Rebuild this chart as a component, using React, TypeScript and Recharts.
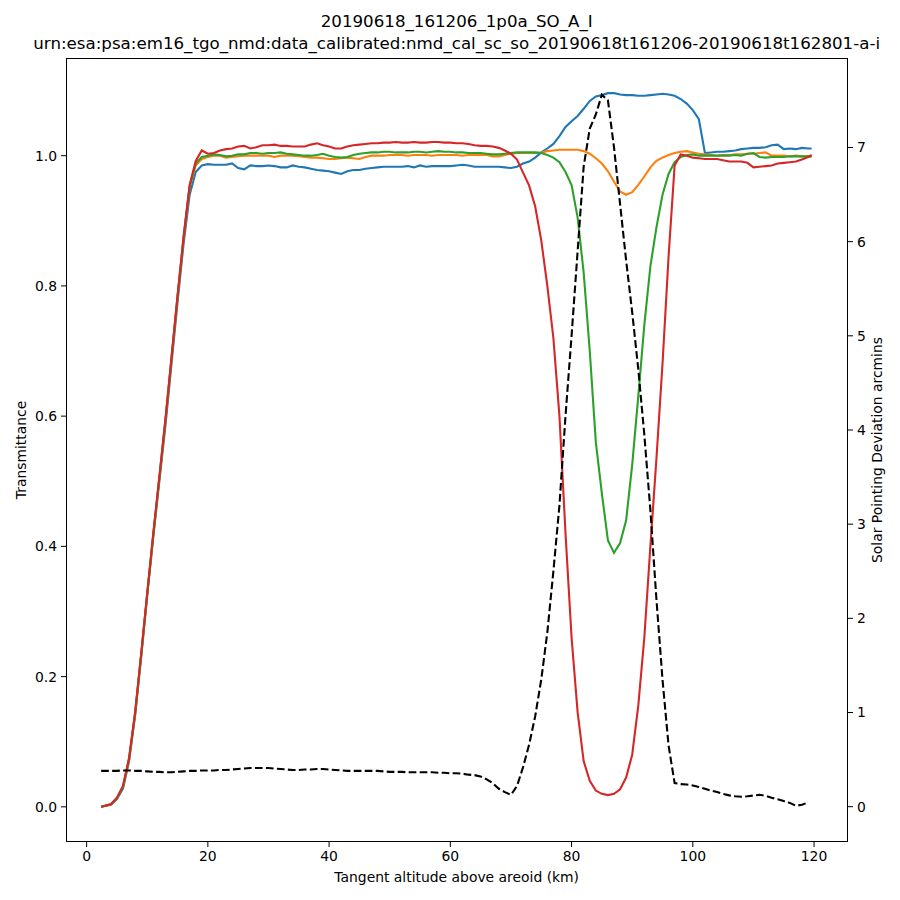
import React from 'react';
import { LineChart, Line, XAxis, YAxis } from 'recharts';

// tangent altitude (km)
const ALT = [
  2.4, 4, 5, 6, 7, 8, 9,
  10, 11, 12, 13, 14, 15, 16, 17, 18, 19,
  20, 21, 22, 23, 24, 25, 26, 27, 28, 29,
  30, 31, 32, 33, 34, 35, 36, 37, 38, 39,
  40, 41, 42, 43, 44, 45, 46, 47, 48, 49,
  50, 51, 52, 53, 54, 55, 56, 57, 58, 59,
  60, 61, 62, 63, 64, 65, 66, 67, 68, 69,
  70, 71, 72, 73, 74, 75, 76, 77, 78, 79,
  80, 81, 82, 83, 84, 85, 86, 87, 88, 89,
  90, 91, 92, 93, 94, 95, 96, 97, 98, 99,
  100, 101, 102, 103, 104, 105, 106, 107, 108, 109,
  110, 111, 112, 113, 114, 115, 116, 117, 118, 119,
  119.6,
];

const BLUE = [
  0, 0.003, 0.012, 0.028, 0.07, 0.14, 0.23,
  0.325, 0.415, 0.5, 0.585, 0.68, 0.775, 0.865, 0.94, 0.975, 0.985,
  0.987, 0.986, 0.986, 0.986, 0.988, 0.981, 0.979, 0.985, 0.984, 0.984,
  0.985, 0.984, 0.982, 0.982, 0.985, 0.983, 0.982, 0.98, 0.978, 0.977,
  0.976, 0.974, 0.972, 0.976, 0.978, 0.978, 0.98, 0.981, 0.982, 0.983,
  0.983, 0.983, 0.983, 0.984, 0.982, 0.985, 0.983, 0.984, 0.984, 0.984,
  0.984, 0.985, 0.986, 0.985, 0.983, 0.983, 0.983, 0.983, 0.983, 0.982,
  0.981, 0.983, 0.988, 0.991, 0.997, 1.005, 1.011, 1.018, 1.03, 1.044,
  1.053, 1.061, 1.072, 1.084, 1.091, 1.093, 1.096, 1.096, 1.094, 1.093,
  1.093, 1.092, 1.092, 1.093, 1.094, 1.095, 1.094, 1.092, 1.087, 1.08,
  1.07, 1.056, 1.004, 1.005, 1.006, 1.006, 1.007, 1.008, 1.01, 1.011,
  1.012, 1.012, 1.013, 1.016, 1.017, 1.01, 1.011, 1.01, 1.012, 1.011,
  1.011,
];

const ORANGE = [
  0, 0.004, 0.013, 0.031, 0.073, 0.143, 0.233,
  0.327, 0.418, 0.505, 0.593, 0.688, 0.783, 0.874, 0.952, 0.985, 0.995,
  0.998, 1.0, 1.0, 0.997, 0.998, 0.999, 1.0, 1.0, 1.0, 1.0,
  1.0, 0.998, 1.0, 1.0, 1.0, 0.999, 0.998, 0.997, 0.997, 0.996,
  0.995, 0.995, 0.996, 0.997, 0.996, 0.995, 0.998, 1.0, 1.0, 1.0,
  1.001, 1.001, 1.001, 1.0, 1.001, 1.001, 1.001, 1.0, 1.001, 1.001,
  1.001, 1.001, 1.0, 1.001, 1.001, 1.001, 1.001, 0.999, 0.999, 1.001,
  1.003, 1.004, 1.004, 1.004, 1.004, 1.005, 1.007, 1.008, 1.009, 1.009,
  1.009, 1.009, 1.007, 1.003, 0.996, 0.988, 0.976, 0.96, 0.945, 0.94,
  0.944, 0.955, 0.968, 0.982, 0.992, 0.997, 1.001, 1.004, 1.006, 1.007,
  1.005, 1.003, 1.002, 1.001, 1.0, 1.001, 1.001, 1.002, 1.002, 1.003,
  1.003, 1.004, 1.005, 1.0, 1.0, 1.0, 0.999, 1.0, 0.999, 0.999,
  0.999,
];

const GREEN = [
  0, 0.004, 0.013, 0.031, 0.073, 0.143, 0.233,
  0.327, 0.418, 0.505, 0.593, 0.688, 0.783, 0.874, 0.953, 0.988, 0.998,
  1.0, 1.002, 1.001, 0.999, 1.0, 1.002, 1.002, 1.004, 1.004, 1.003,
  1.004, 1.004, 1.005, 1.003, 1.002, 1.001, 1.0, 1.0, 1.001, 1.003,
  1.0, 0.998, 0.997, 0.998, 1.001, 1.003, 1.004, 1.005, 1.005, 1.006,
  1.006, 1.005, 1.005, 1.005, 1.006, 1.006, 1.005, 1.006, 1.007, 1.006,
  1.006, 1.005, 1.005, 1.004, 1.004, 1.004, 1.003, 1.002, 1.002, 1.003,
  1.004, 1.005, 1.005, 1.005, 1.005, 1.004, 1.001, 0.997, 0.99, 0.975,
  0.955, 0.905, 0.82, 0.7, 0.56, 0.481, 0.409, 0.39, 0.405, 0.44,
  0.525, 0.63, 0.74, 0.83, 0.89, 0.94, 0.972, 0.99, 0.998, 1.001,
  1.002, 1.0, 1.0, 1.0, 1.0, 1.0, 1.0, 1.001, 1.0, 1.003,
  1.004, 0.998, 0.997, 0.998, 0.998, 0.998, 0.999, 0.999, 0.999, 0.999,
  0.999,
];

const RED = [
  0, 0.004, 0.014, 0.032, 0.075, 0.145, 0.235,
  0.328, 0.42, 0.507, 0.595, 0.69, 0.785, 0.876, 0.955, 0.992, 1.008,
  1.003, 1.004, 1.008, 1.01, 1.011, 1.014, 1.015, 1.011, 1.013, 1.016,
  1.016, 1.017, 1.015, 1.015, 1.014, 1.014, 1.014, 1.017, 1.019, 1.016,
  1.014, 1.011, 1.011, 1.014, 1.016, 1.017, 1.018, 1.019, 1.019, 1.02,
  1.02, 1.021, 1.02, 1.02, 1.021, 1.02, 1.02, 1.021, 1.021, 1.02,
  1.02, 1.019, 1.019, 1.018, 1.016, 1.015, 1.015, 1.014, 1.012, 1.008,
  1.003, 0.994, 0.974, 0.954, 0.922, 0.87, 0.8, 0.72, 0.6, 0.42,
  0.26, 0.145, 0.07, 0.04, 0.025, 0.02, 0.018, 0.02, 0.027, 0.045,
  0.08, 0.155, 0.26, 0.4, 0.535, 0.68, 0.845, 0.985, 1.002, 1.0,
  0.997, 0.996, 0.995, 0.995, 0.995, 0.993, 0.991, 0.991, 0.991, 0.989,
  0.982, 0.983, 0.984, 0.985, 0.988, 0.989, 0.99, 0.991, 0.994, 0.998,
  1.001,
];

// solar pointing deviation (arcmin), right axis
const DEVIATION = [
  0.38, 0.38, 0.38, 0.385, 0.385, 0.38, 0.38,
  0.375, 0.37, 0.37, 0.365, 0.365, 0.37, 0.375, 0.38, 0.38, 0.385,
  0.385, 0.385, 0.39, 0.39, 0.395, 0.4, 0.405, 0.41, 0.41, 0.41,
  0.41, 0.405, 0.4, 0.395, 0.39, 0.39, 0.395, 0.395, 0.4, 0.4,
  0.395, 0.39, 0.385, 0.38, 0.38, 0.38, 0.38, 0.38, 0.38, 0.375,
  0.37, 0.37, 0.37, 0.365, 0.365, 0.365, 0.365, 0.365, 0.36, 0.36,
  0.355, 0.355, 0.35, 0.34, 0.335, 0.32, 0.29, 0.25, 0.19, 0.155,
  0.125, 0.22, 0.42, 0.66, 0.96, 1.35, 1.85, 2.5, 3.2, 4.15,
  5.0, 5.9, 6.8, 7.2, 7.35, 7.56, 7.5, 7.0, 6.4, 5.8,
  5.25, 4.65, 3.95, 3.15, 2.2, 1.35, 0.65, 0.25, 0.24, 0.235,
  0.225, 0.21, 0.19, 0.17, 0.155, 0.135, 0.12, 0.11, 0.106, 0.11,
  0.118, 0.127, 0.115, 0.095, 0.08, 0.06, 0.04, 0.01, 0.02, 0.045,
  null,
];

const X_TICKS = [0, 20, 40, 60, 80, 100, 120];
const T_TICKS = [0, 0.2, 0.4, 0.6, 0.8, 1.0];
const D_TICKS = [0, 1, 2, 3, 4, 5, 6, 7];

const TITLE_1 = '20190618_161206_1p0a_SO_A_I';
const TITLE_2 =
  'urn:esa:psa:em16_tgo_nmd:data_calibrated:nmd_cal_sc_so_20190618t161206-20190618t162801-a-i';

const FONT = '"DejaVu Sans", sans-serif';
const tickStyle = { fill: '#000', fontSize: 13.9, fontFamily: FONT };

const rows = ALT.map((alt, i) => ({
  alt,
  blue: BLUE[i],
  orange: ORANGE[i],
  green: GREEN[i],
  red: RED[i],
  dev: DEVIATION[i],
}));

function centered(top: number, size: number): React.CSSProperties {
  return {
    position: 'absolute',
    left: 0,
    width: 913.4,
    top,
    textAlign: 'center',
    fontSize: size,
    lineHeight: `${size * 1.2}px`,
    whiteSpace: 'nowrap',
  };
}

function vertical(cx: number, cy: number): React.CSSProperties {
  return {
    position: 'absolute',
    left: cx,
    top: cy,
    fontSize: 13.9,
    lineHeight: '16px',
    whiteSpace: 'nowrap',
    transform: 'translate(-50%, -50%) rotate(-90deg)',
  };
}

export default function App() {
  return (
    <div
      style={{
        position: 'absolute',
        left: 0,
        top: 0,
        width: 900,
        height: 900,
        background: '#fff',
        fontFamily: FONT,
        color: '#000',
      }}
    >
      <div style={centered(12, 16.67)}>{TITLE_1}</div>
      <div style={centered(34, 16.67)}>{TITLE_2}</div>

      <LineChart
        width={900}
        height={900}
        data={rows}
        margin={{ top: 58, right: 0, bottom: 0, left: 0 }}
      >
        <XAxis
          dataKey="alt"
          type="number"
          domain={[-3.4, 125.6]}
          ticks={X_TICKS}
          allowDataOverflow
          axisLine={false}
          tickLine={{ stroke: '#000' }}
          tickSize={5}
          tickMargin={4}
          tick={tickStyle}
          height={58}
        />
        <YAxis
          yAxisId="t"
          type="number"
          domain={[-0.054, 1.15]}
          ticks={T_TICKS}
          allowDataOverflow
          tickFormatter={(v: number) => v.toFixed(1)}
          axisLine={false}
          tickLine={{ stroke: '#000' }}
          tickSize={5}
          tickMargin={4}
          tick={tickStyle}
          width={66}
        />
        <YAxis
          yAxisId="d"
          orientation="right"
          type="number"
          domain={[-0.375, 7.95]}
          ticks={D_TICKS}
          allowDataOverflow
          axisLine={false}
          tickLine={{ stroke: '#000' }}
          tickSize={5}
          tickMargin={4}
          tick={tickStyle}
          width={52}
        />
        <Line yAxisId="t" dataKey="blue" stroke="#1f77b4" strokeWidth={2.1} dot={false} type="linear" isAnimationActive={false} />
        <Line yAxisId="t" dataKey="orange" stroke="#ff7f0e" strokeWidth={2.1} dot={false} type="linear" isAnimationActive={false} />
        <Line yAxisId="t" dataKey="green" stroke="#2ca02c" strokeWidth={2.1} dot={false} type="linear" isAnimationActive={false} />
        <Line yAxisId="t" dataKey="red" stroke="#d62728" strokeWidth={2.1} dot={false} type="linear" isAnimationActive={false} />
        <Line
          yAxisId="d"
          dataKey="dev"
          stroke="#000"
          strokeWidth={2.1}
          strokeDasharray="7.7 3.3"
          dot={false}
          type="linear"
          isAnimationActive={false}
        />
      </LineChart>

      {/* axes frame */}
      <div
        style={{
          position: 'absolute',
          left: 65.5,
          top: 57.8,
          width: 782,
          height: 784.7,
          border: '1.1px solid #000',
          boxSizing: 'border-box',
          pointerEvents: 'none',
        }}
      />

      <div style={centered(868.5, 13.9)}>Tangent altitude above areoid (km)</div>
      <div style={vertical(21, 450)}>Transmittance</div>
      <div style={vertical(877, 450)}>Solar Pointing Deviation arcmins</div>
    </div>
  );
}
